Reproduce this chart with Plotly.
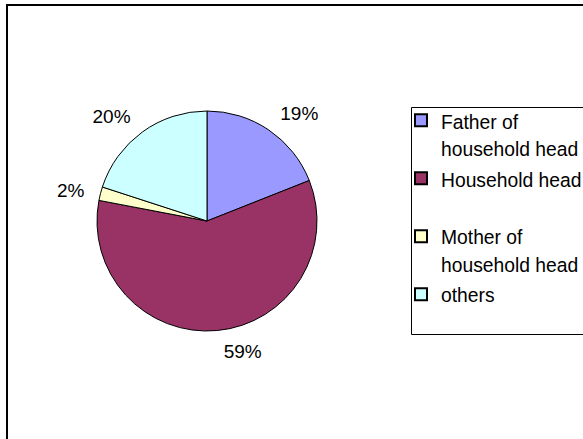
import plotly.graph_objects as go

W, H = 583, 439

categories = ["Father of<br>household head", "Household head<br> ", "Mother of<br>household head", "others"]
values = [19, 59, 2, 20]
colors = ["#9999FF", "#993366", "#FFFFCC", "#CCFFFF"]

cx, cy, r = 207, 221, 110
r_lab = 121

def dom(rad):
    return dict(x=[(cx - rad) / W, (cx + rad) / W], y=[(H - cy - rad) / H, (H - cy + rad) / H])

legend_labels = ["<span style='font-size:19.3px'>" + c + "</span>" for c in categories]

fig = go.Figure()
fig.add_trace(go.Pie(
    labels=legend_labels,
    values=values,
    sort=False,
    direction="clockwise",
    rotation=0,
    marker=dict(colors=colors, line=dict(color="black", width=1)),
    textinfo="none",
    domain=dom(r),
    hoverinfo="percent",
))
# transparent companion pie carrying the outside percentage labels
fig.add_trace(go.Pie(
    labels=legend_labels,
    values=values,
    sort=False,
    direction="clockwise",
    rotation=0,
    marker=dict(colors=["rgba(0,0,0,0)"] * 4, line=dict(width=0)),
    textinfo="percent",
    textposition="outside",
    texttemplate="%{percent:.0%}",
    outsidetextfont=dict(family="Liberation Sans, Arial", size=19, color="black"),
    domain=dom(r_lab),
    showlegend=False,
    hoverinfo="skip",
))

fig.update_layout(
    width=W, height=H,
    margin=dict(l=0, r=0, t=0, b=0, autoexpand=False),
    paper_bgcolor="white",
    showlegend=True,
    legend=dict(
        x=401 / W, y=1 - 100 / H, xanchor="left", yanchor="top",
        font=dict(family="Liberation Sans, Arial", size=21.15, color="black"),
        valign="top",
        bgcolor="rgba(0,0,0,0)",
        borderwidth=0,
        itemsizing="constant",
    ),
    shapes=[
        dict(type="rect", xref="paper", yref="paper",
             x0=7 / W, x1=1.2, y0=-0.2, y1=1 - 5 / H,
             line=dict(color="black", width=2)),
        dict(type="rect", xref="paper", yref="paper",
             x0=411.5 / W, x1=1.2, y0=1 - 334.5 / H, y1=1 - 107.5 / H,
             line=dict(color="black", width=1)),
    ],
)

fig.write_html("out.html", post_script="document.body.style.margin='0';",
               config={"displayModeBar": False})
